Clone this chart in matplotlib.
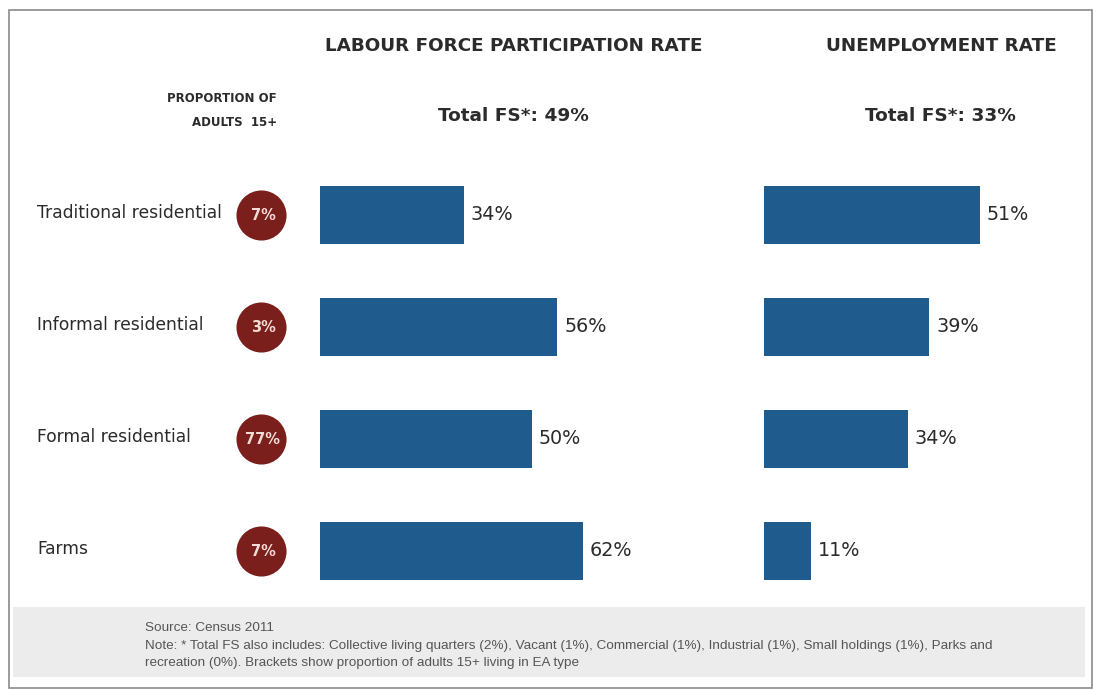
import matplotlib
matplotlib.use("Agg")
import matplotlib.pyplot as plt
from matplotlib.patches import Rectangle

# Data
categories = ["Traditional residential", "Informal residential", "Formal residential", "Farms"]
adult_share = [7, 3, 77, 7]           # proportion of adults 15+ living in EA type (%)
participation = [34, 56, 50, 62]      # labour force participation rate (%)
unemployment = [51, 39, 34, 11]       # unemployment rate (%)
total_participation = 49
total_unemployment = 33

W, H = 1093, 689
fig = plt.figure(figsize=(W / 100, H / 100), dpi=100)
fig.patch.set_facecolor("white")

BAR = "#1f5b8c"
DOT = "#7a1f1b"
TXT = "#2b2b2b"


def px_axes(x0, y0, x1, y1):
    """Axes placed by pixel box (top-left origin)."""
    return fig.add_axes([x0 / W, 1 - y1 / H, (x1 - x0) / W, (y1 - y0) / H])


# Background layer for frame, headings and note box
bg = px_axes(0, 0, W, H)
bg.set_xlim(0, W)
bg.set_ylim(H, 0)
bg.axis("off")
bg.add_patch(Rectangle((9, 10), W - 10, H - 11, fill=False, edgecolor="#8a8a8a", lw=1.2))
bg.add_patch(Rectangle((13, 607), 1072, 70, facecolor="#ececec", edgecolor="none"))

bg.text(514, 46, "LABOUR FORCE PARTICIPATION RATE", ha="center", va="center",
        fontsize=13.2, fontweight="bold", color=TXT)
bg.text(941, 46, "UNEMPLOYMENT RATE", ha="center", va="center",
        fontsize=13.2, fontweight="bold", color=TXT)
bg.text(513, 116, f"Total FS*: {total_participation}%", ha="center", va="center",
        fontsize=13.3, fontweight="bold", color=TXT)
bg.text(940, 116, f"Total FS*: {total_unemployment}%", ha="center", va="center",
        fontsize=13.3, fontweight="bold", color=TXT)
bg.text(277, 99, "PROPORTION OF", ha="right", va="center",
        fontsize=8.5, fontweight="bold", color=TXT)
bg.text(277, 123, "ADULTS  15+", ha="right", va="center",
        fontsize=8.5, fontweight="bold", color=TXT)

note_font = dict(fontsize=9.7, color="#555555", family="Liberation Sans", ha="left", va="center")
bg.text(145, 628, "Source: Census 2011", **note_font)
bg.text(145, 646, "Note: * Total FS also includes: Collective living quarters (2%), Vacant (1%), "
        "Commercial (1%), Industrial (1%), Small holdings (1%), Parks and", **note_font)
bg.text(145, 663, "recreation (0%). Brackets show proportion of adults 15+ living in EA type",
        **note_font)

rows = list(range(len(categories)))
TOP, BOTTOM = 159, 607

# Category labels and adult-share circles
lab = px_axes(0, TOP, 320, BOTTOM)
lab.set_xlim(0, 320)
lab.set_ylim(len(categories) - 0.5, -0.5)
lab.axis("off")
lab.scatter([261] * len(rows), rows, s=1300, color=DOT, zorder=2, linewidths=0)
for r, name, share in zip(rows, categories, adult_share):
    lab.text(37, r - 0.02, name, ha="left", va="center", fontsize=12.3, color=TXT)
    lab.text(263, r, f"{share}%", ha="center", va="center", fontsize=10.5,
             fontweight="bold", color="#f3dcd6", zorder=3)


def bar_panel(x0, x1, xmax, values):
    ax = px_axes(x0, TOP, x1, BOTTOM)
    ax.set_xlim(0, xmax)
    ax.set_ylim(len(values) - 0.5, -0.5)
    ax.axis("off")
    ax.barh(rows, values, height=0.51, color=BAR)
    for r, v in zip(rows, values):
        ax.text(v + 1.6, r, f"{v}%", ha="left", va="center", fontsize=13.8, color=TXT)
    return ax


scale = 4.24  # pixels per percentage point
bar_panel(320, 320 + 100 * scale, 100, participation)
bar_panel(764, 764 + 75 * scale, 75, unemployment)

fig.savefig("out.png", dpi=100, facecolor="white")
